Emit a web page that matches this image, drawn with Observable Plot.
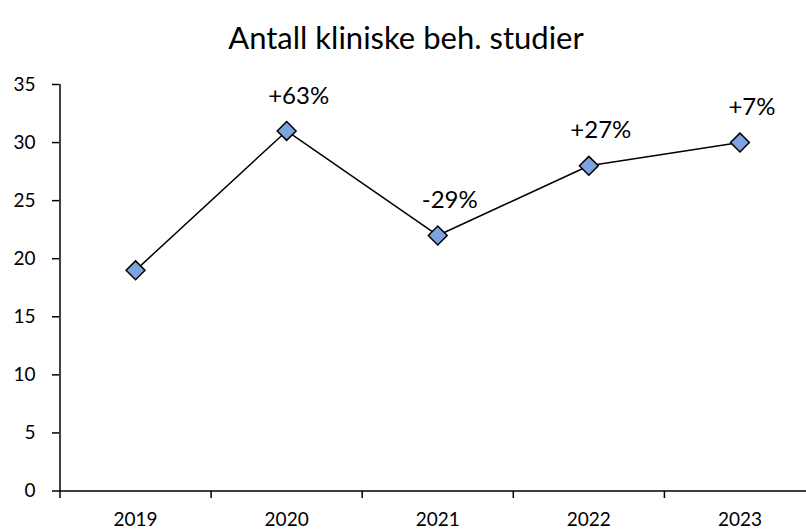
<!DOCTYPE html>
<html>
<head>
<meta charset="utf-8">
<script src="https://cdn.jsdelivr.net/npm/d3@7"></script>
<script src="https://cdn.jsdelivr.net/npm/@observablehq/plot@0.6"></script>
<style>
  html, body { margin: 0; padding: 0; background: #fff; }
  #title { height: 66px; box-sizing: border-box; padding-top: 20px; line-height: 34px;
           font-family: Lato, "Open Sans", sans-serif; font-size: 31px; text-align: center; color: #000; width: 812px; }
  svg { display: block; }
</style>
</head>
<body>
<div id="title">Antall kliniske beh. studier</div>
<div id="chart"></div>
<script>
const years = [2019, 2020, 2021, 2022, 2023];
const values = [19, 31, 22, 28, 30];
const changeLabels = ["", "+63%", "-29%", "+27%", "+7%"];
const yTicks = [0, 5, 10, 15, 20, 25, 30, 35];

const data = years.map((y, i) => ({year: y, value: values[i], label: changeLabels[i]}));
const boundaries = [years[0] - 0.5, ...years.map(y => y + 0.5)];
const font = "Lato, 'Open Sans', sans-serif";

const chart = Plot.plot({
  width: 806,
  height: 465,
  marginLeft: 59,
  marginRight: 0,
  marginTop: 18,
  marginBottom: 40,
  style: {fontFamily: font, fontSize: "19px", color: "#000", background: "#fff", overflow: "visible"},
  x: {type: "linear", domain: [years[0] - 0.5, years[years.length - 1] + 0.5], range: [59.5, 815], axis: null},
  y: {domain: [0, 35], range: [424.5, 18], axis: null},
  marks: [
    Plot.axisY({ticks: yTicks, tickSize: 7, tickPadding: 17, tickFormat: d => String(d), label: null, stroke: "#000", strokeWidth: 1.5, fontSize: 19}),
    Plot.ruleX([years[0] - 0.5], {stroke: "#000", strokeWidth: 1.5}),
    Plot.ruleY([0], {stroke: "#000", strokeWidth: 1.5}),
    Plot.axisX({ticks: boundaries, tickSize: 7, tickFormat: () => "", label: null, stroke: "#000", strokeWidth: 1.5}),
    Plot.axisX({ticks: years, tickSize: 0, tickPadding: 21, tickFormat: d => String(d), label: null, fontSize: 19}),
    Plot.line(data, {x: "year", y: "value", stroke: "#000", strokeWidth: 1.5}),
    Plot.dot(data, {x: "year", y: "value", symbol: "diamond2", r: 8.5, fill: "#7ba4e0", stroke: "#000", strokeWidth: 1.5}),
    Plot.text(data.filter(d => d.label), {x: "year", y: "value", text: "label", dx: 12, dy: -35, fontSize: 24, fill: "#000"})
  ]
});
document.getElementById("chart").appendChild(chart);
</script>
</body>
</html>
